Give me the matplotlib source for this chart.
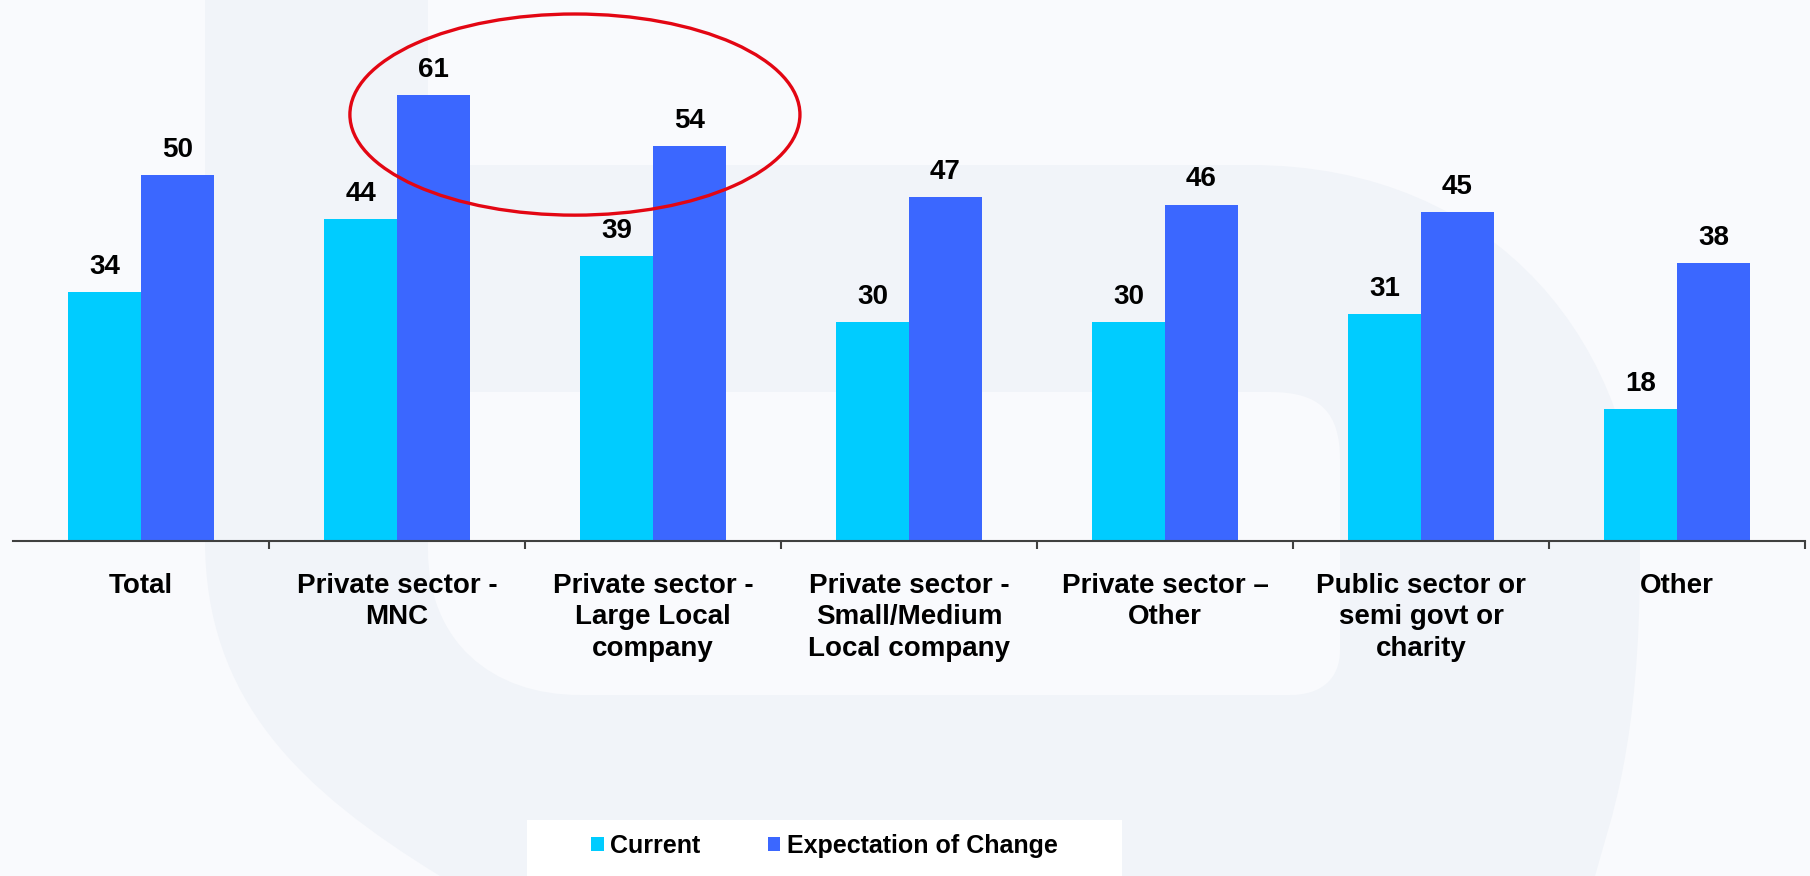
import matplotlib
matplotlib.use('Agg')
import matplotlib.pyplot as plt
from matplotlib.patches import Ellipse, Patch, PathPatch, Rectangle, FancyBboxPatch
from matplotlib.path import Path
import numpy as np

categories = [
    "Total",
    "Private sector -\nMNC",
    "Private sector -\nLarge Local\ncompany",
    "Private sector -\nSmall/Medium\nLocal company",
    "Private sector \u2013\nOther",
    "Public sector or\nsemi govt or\ncharity",
    "Other",
]
current = [34, 44, 39, 30, 30, 31, 18]
expectation = [50, 61, 54, 47, 46, 45, 38]
series_names = ["Current", "Expectation of Change"]

CYAN = "#00ccff"
BLUE = "#3b67ff"
BG = "#f9fafd"
BAND = "#f1f4f9"

plt.rcParams['font.family'] = ['Liberation Sans', 'DejaVu Sans']
plt.rcParams['font.weight'] = 'bold'

W, H = 1810, 876
fig = plt.figure(figsize=(W / 100, H / 100), dpi=100)
fig.patch.set_facecolor(BG)

# backdrop layer in pixel units (y grows downward)
bg = fig.add_axes([0, 0, 1, 1], zorder=0)
bg.set_xlim(0, W)
bg.set_ylim(H, 0)
bg.axis('off')

M, L, C, Z = Path.MOVETO, Path.LINETO, Path.CURVE4, Path.CLOSEPOLY
verts = [
    (205, 0), (428, 0), (428, 165), (1250, 165),
    (1500, 165), (1640, 350), (1640, 555),
    (1640, 750), (1610, 820), (1595, 876),
    (440, 876),
    (300, 790), (205, 700), (205, 540),
    (205, 0),
]
codes = [M, L, L, L, C, C, C, C, C, C, L, C, C, C, Z]
bg.add_patch(PathPatch(Path(verts, codes), facecolor=BAND, edgecolor='none'))

# inner counter of the bowl: square top-left, large round bottom-left
hole = [
    (428, 392), (1270, 392),
    (1320, 392), (1340, 412), (1340, 460),
    (1340, 650),
    (1340, 680), (1320, 695), (1290, 695),
    (580, 695),
    (490, 695), (428, 640), (428, 550),
    (428, 392),
]
hcodes = [M, L, C, C, C, L, C, C, C, L, C, C, C, Z]
bg.add_patch(PathPatch(Path(hole, hcodes), facecolor=BG, edgecolor='none'))
# legend panel
bg.add_patch(Rectangle((527, 820), 595, 56, facecolor='white', edgecolor='none'))

top_px, base_px, left_px, right_px = 29, 541, 13, 1805
ax = fig.add_axes([left_px / W, (H - base_px) / H,
                   (right_px - left_px) / W, (base_px - top_px) / H], zorder=1)
ax.set_facecolor('none')

x = np.arange(len(categories))
bw = 0.285
b1 = ax.bar(x - bw / 2, current, bw, color=CYAN, label=series_names[0])
b2 = ax.bar(x + bw / 2, expectation, bw, color=BLUE, label=series_names[1])

for bars, vals in ((b1, current), (b2, expectation)):
    for rect, v in zip(bars, vals):
        ax.annotate(str(v), (rect.get_x() + rect.get_width() / 2, v),
                    xytext=(0, 13), textcoords='offset points',
                    ha='center', va='baseline', fontsize=20, fontweight='bold')

ax.set_xlim(-0.5, len(categories) - 0.5)
ax.set_ylim(0, 70)
for s in ('top', 'right', 'left'):
    ax.spines[s].set_visible(False)
ax.spines['bottom'].set_color('#404040')
ax.spines['bottom'].set_linewidth(1.5)
ax.set_yticks([])

ax.set_xticks(x)
ax.set_xticklabels(categories, fontsize=20, fontweight='bold', linespacing=1.27,
                   va='top')
ax.tick_params(axis='x', which='major', length=0, pad=23)
ax.set_xticks(np.arange(1, len(categories) + 1) - 0.5, minor=True)
ax.tick_params(axis='x', which='minor', length=6, width=1.5, color='#404040',
               direction='out')

# highlight around the two largest private-sector groups
ax.add_patch(Ellipse((1.695, 58.3), 1.758, 27.5, facecolor='none',
                     edgecolor='#e30613', linewidth=2.4, clip_on=False))

handles = [Patch(facecolor=CYAN), Patch(facecolor=BLUE)]
fig.legend(handles, series_names, loc='center',
           bbox_to_anchor=(824.5 / W, (H - 846) / H), ncol=2, frameon=False,
           prop={'size': 18, 'weight': 'bold'}, handlelength=0.5,
           handleheight=0.5, handletextpad=0.25, columnspacing=2.7)

fig.savefig('out.png', dpi=100, facecolor=BG)
